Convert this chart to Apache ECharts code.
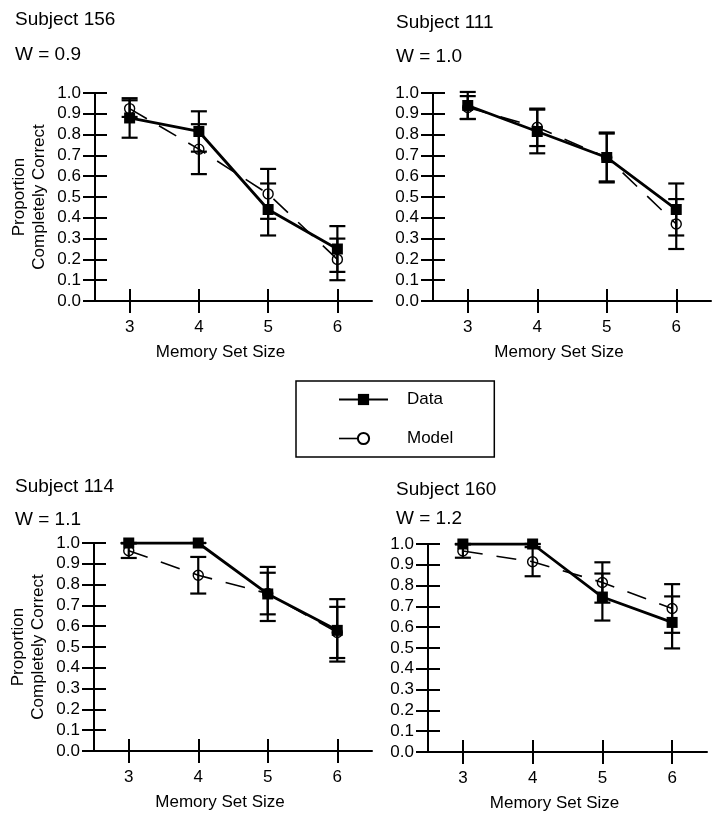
<!DOCTYPE html>
<html>
<head>
<meta charset="utf-8">
<script src="https://cdn.jsdelivr.net/npm/echarts@6/dist/echarts.min.js"></script>
<style>html,body{margin:0;padding:0;background:#fff;}#chart{width:725px;height:820px;}</style>
</head>
<body>
<div id="chart"></div>
<script>
// ---- data ----
const setSizes = [3, 4, 5, 6];
const yTicks = [0, 0.1, 0.2, 0.3, 0.4, 0.5, 0.6, 0.7, 0.8, 0.9, 1.0];

const subjects = ['Subject 156', 'Subject 111', 'Subject 114', 'Subject 160'];
const weights = ['W = 0.9', 'W = 1.0', 'W = 1.1', 'W = 1.2'];

const data156 = [0.88, 0.815, 0.44, 0.25];
const dataErr156 = [0.095, 0.097, 0.125, 0.11];
const model156 = [0.925, 0.73, 0.515, 0.2];
const modelErr156 = [0.04, 0.12, 0.12, 0.1];

const data111 = [0.94, 0.815, 0.69, 0.44];
const dataErr111 = [0.065, 0.105, 0.12, 0.125];
const model111 = [0.93, 0.835, 0.69, 0.37];
const modelErr111 = [0.055, 0.09, 0.115, 0.12];

const data114 = [1.0, 1.0, 0.755, 0.58];
const dataErr114 = [0, 0, 0.13, 0.15];
const model114 = [0.963, 0.845, 0.757, 0.57];
const modelErr114 = [0.035, 0.088, 0.1, 0.123];

const data160 = [1.0, 1.0, 0.745, 0.623];
const dataErr160 = [0, 0, 0.113, 0.125];
const model160 = [0.966, 0.915, 0.815, 0.69];
const modelErr160 = [0.032, 0.07, 0.097, 0.117];

const panelData = [
  {d: data156, de: dataErr156, m: model156, me: modelErr156},
  {d: data111, de: dataErr111, m: model111, me: modelErr111},
  {d: data114, de: dataErr114, m: model114, me: modelErr114},
  {d: data160, de: dataErr160, m: model160, me: modelErr160}
];

// ---- layout ----
const FONT = 'Liberation Sans, Arial, sans-serif';
const grids = [
  {left: 95, top: 93, width: 277, height: 208},
  {left: 433, top: 93, width: 278, height: 208},
  {left: 94, top: 543, width: 278, height: 208},
  {left: 428, top: 544, width: 279, height: 208}
];
const titlePos = [
  {left: 15, t1: 10, t2: 45},
  {left: 396, t1: 13, t2: 47},
  {left: 15, t1: 477, t2: 510},
  {left: 396, t1: 480, t2: 509}
];

const option = {
  backgroundColor: '#fff',
  animation: false,
  textStyle: {fontFamily: FONT, color: '#000'},
  title: [],
  legend: {
    data: [
      {name: 'Data'},
      {name: 'Model', lineStyle: {color: '#000', width: 1.6, type: [19, 200]}}
    ],
    orient: 'vertical',
    left: 296, top: 381,
    padding: [10, 41, 10, 42],
    itemWidth: 49, itemHeight: 14, itemGap: 22,
    borderColor: '#000', borderWidth: 1.5,
    textStyle: {fontFamily: FONT, fontSize: 17, color: '#000', padding: [0, 0, 0, 14]}
  },
  grid: [], xAxis: [], yAxis: [], series: []
};

function errRender(params, api) {
  const x = api.value(0), y = api.value(1), e = api.value(2);
  const top = api.coord([x, y + e]);
  const bot = api.coord([x, y - e]);
  const hw = 8;
  const st = {stroke: '#000', lineWidth: 2.2};
  return {
    type: 'group',
    children: [
      {type: 'line', shape: {x1: top[0], y1: top[1], x2: bot[0], y2: bot[1]}, style: st},
      {type: 'line', shape: {x1: top[0] - hw, y1: top[1], x2: top[0] + hw, y2: top[1]}, style: st},
      {type: 'line', shape: {x1: bot[0] - hw, y1: bot[1], x2: bot[0] + hw, y2: bot[1]}, style: st}
    ]
  };
}

grids.forEach((g, i) => {
  option.grid.push(g);
  const tp = titlePos[i];
  option.title.push({text: subjects[i], left: tp.left, top: tp.t1, padding: 0,
    textStyle: {fontFamily: FONT, fontSize: 19, fontWeight: 'normal', color: '#000'}});
  option.title.push({text: weights[i], left: tp.left, top: tp.t2, padding: 0,
    textStyle: {fontFamily: FONT, fontSize: 19, fontWeight: 'normal', color: '#000'}});

  // main x axis
  option.xAxis.push({
    type: 'value', gridIndex: i, min: 2.5, max: 6.5,
    name: 'Memory Set Size', nameLocation: 'middle', nameGap: 43,
    nameTextStyle: {fontFamily: FONT, fontSize: 17, color: '#000', padding: [0, 26, 0, 0]},
    axisLine: {show: true, lineStyle: {color: '#000', width: 2}},
    axisTick: {show: true, inside: false, length: 12, lineStyle: {color: '#000', width: 2}, customValues: setSizes},
    axisLabel: {show: true, margin: 18, fontFamily: FONT, fontSize: 17, color: '#000', customValues: setSizes},
    splitLine: {show: false}
  });
  // inner tick x axis
  option.xAxis.push({
    type: 'value', gridIndex: i, min: 2.5, max: 6.5, position: 'bottom',
    axisLine: {show: false},
    axisTick: {show: true, inside: true, length: 12, lineStyle: {color: '#000', width: 2}, customValues: setSizes},
    axisLabel: {show: false},
    splitLine: {show: false}
  });
  const yMain = {
    type: 'value', gridIndex: i, min: 0, max: 1, interval: 0.1,
    axisLine: {show: true, lineStyle: {color: '#000', width: 2}},
    axisTick: {show: true, inside: false, length: 12, lineStyle: {color: '#000', width: 2}},
    axisLabel: {show: true, margin: 14, fontFamily: FONT, fontSize: 17, color: '#000',
      formatter: v => (Math.round(v * 10) / 10).toFixed(1)},
    splitLine: {show: false}
  };
  if (i === 0 || i === 2) {
    yMain.name = 'Proportion\nCompletely Correct';
    yMain.nameLocation = 'middle';
    yMain.nameGap = 46;
    yMain.nameTextStyle = {fontFamily: FONT, fontSize: 17, color: '#000', lineHeight: 20};
  }
  option.yAxis.push(yMain);
  option.yAxis.push({
    type: 'value', gridIndex: i, min: 0, max: 1, interval: 0.1, position: 'left',
    axisLine: {show: false},
    axisTick: {show: true, inside: true, length: 12, lineStyle: {color: '#000', width: 2}},
    axisLabel: {show: false},
    splitLine: {show: false}
  });

  const pd = panelData[i];
  const xi = i * 2, yi = i * 2;
  option.series.push({
    type: 'custom', xAxisIndex: xi, yAxisIndex: yi, z: 1, clip: false, silent: true,
    renderItem: errRender, encode: {x: 0, y: 1},
    data: setSizes.map((s, k) => [s, pd.m[k], pd.me[k]])
  });
  option.series.push({
    type: 'custom', xAxisIndex: xi, yAxisIndex: yi, z: 1, clip: false, silent: true,
    renderItem: errRender, encode: {x: 0, y: 1},
    data: setSizes.map((s, k) => [s, pd.d[k], pd.de[k]])
  });
  option.series.push({
    name: 'Model', type: 'line', xAxisIndex: xi, yAxisIndex: yi, z: 3,
    data: setSizes.map((s, k) => [s, pd.m[k]]),
    symbol: 'circle', symbolSize: 10, showSymbol: true,
    lineStyle: {color: '#000', width: 1.6, type: [20, 14]},
    itemStyle: {color: 'rgba(255,255,255,0)', borderColor: '#000', borderWidth: 1.4}
  });
  option.series.push({
    name: 'Data', type: 'line', xAxisIndex: xi, yAxisIndex: yi, z: 4,
    data: setSizes.map((s, k) => [s, pd.d[k]]),
    symbol: 'rect', symbolSize: 11, showSymbol: true,
    lineStyle: {color: '#000', width: 2.8},
    itemStyle: {color: '#000', borderColor: '#000', borderWidth: 0}
  });
});

const chart = echarts.init(document.getElementById('chart'), null, {renderer: 'canvas'});
chart.setOption(option);
</script>
</body>
</html>
